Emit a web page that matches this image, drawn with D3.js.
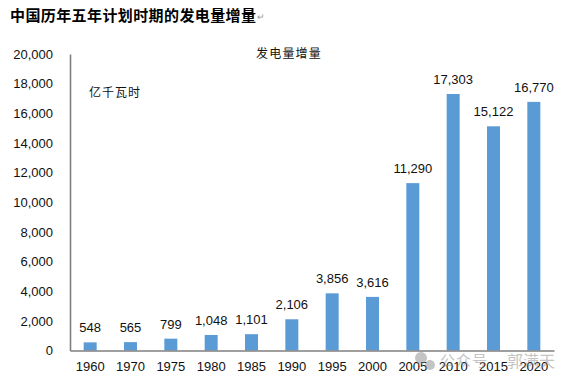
<!DOCTYPE html>
<html>
<head>
<meta charset="utf-8">
<script src="https://cdn.jsdelivr.net/npm/d3@7"></script>
<style>
  html, body { margin: 0; padding: 0; background: #fff; }
  text { font-family: "Liberation Sans", "Noto Sans CJK SC", sans-serif; fill: #111; }
  .cjk { font-family: "Noto Sans CJK SC", sans-serif; }
</style>
</head>
<body>
<svg id="chart"></svg>
<script>
  const years  = ['1960','1970','1975','1980','1985','1990','1995','2000','2005','2010','2015','2020'];
  const values = [548, 565, 799, 1048, 1101, 2106, 3856, 3616, 11290, 17303, 15122, 16770];
  const yTicks = [0, 2000, 4000, 6000, 8000, 10000, 12000, 14000, 16000, 18000, 20000];

  const svgWidth  = 573;
  const svgHeight = 385;
  const plotLeft = 70, plotRight = 554, plotTop = 54, plotBottom = 350.5;
  const fmt = d3.format(',');

  const svg = d3.select('#chart')
    .attr('width', svgWidth)
    .attr('height', svgHeight)
    .style('display', 'block');

  const x = d3.scaleBand().domain(years).range([plotLeft, plotRight]);
  const y = d3.scaleLinear().domain([0, 20000]).range([plotBottom, plotTop]);

  svg.selectAll('rect.bar')
    .data(values)
    .enter()
    .append('rect')
    .attr('class', 'bar')
    .attr('x', (d, i) => x(years[i]) + x.bandwidth() / 2 - 6.5)
    .attr('width', 13)
    .attr('y', d => y(d))
    .attr('height', d => y(0) - y(d))
    .attr('fill', '#5b9bd5');

  const yAxis = svg.append('g')
    .attr('transform', `translate(${plotLeft},0)`)
    .call(d3.axisLeft(y).tickValues(yTicks).tickFormat(fmt).tickSize(0).tickPadding(17));
  yAxis.selectAll('text').attr('font-size', 13).attr('fill', '#111');
  yAxis.select('.domain').attr('stroke', '#7f7f7f').attr('stroke-width', 1.6);

  const xAxis = svg.append('g')
    .attr('transform', `translate(0,${plotBottom})`)
    .call(d3.axisBottom(x).tickSize(0).tickPadding(11));
  xAxis.selectAll('text').attr('font-size', 13).attr('fill', '#111');
  xAxis.select('.domain').attr('stroke', '#7f7f7f').attr('stroke-width', 1.6);

  svg.selectAll('text.val')
    .data(values)
    .enter()
    .append('text')
    .attr('class', 'val')
    .attr('text-anchor', 'middle')
    .attr('x', (d, i) => x(years[i]) + x.bandwidth() / 2)
    .attr('y', d => y(d) - 10)
    .attr('font-size', 13)
    .text(d => fmt(d));

  // title and the two labels inside the chart area
  svg.append('text').attr('class', 'cjk')
    .attr('x', 10).attr('y', 20.5)
    .attr('font-size', 15).attr('font-weight', 700)
    .style('fill', '#000')
    .style('letter-spacing', '0.4px')
    .text('中国历年五年计划时期的发电量增量');
  svg.append('text')
    .attr('x', 257).attr('y', 20)
    .attr('font-size', 9)
    .style('fill', '#999')
    .text('↵');
  svg.append('text').attr('class', 'cjk')
    .attr('x', 256).attr('y', 58)
    .attr('font-size', 12)
    .style('letter-spacing', '1.2px')
    .text('发电量增量');
  svg.append('text').attr('class', 'cjk')
    .attr('x', 89).attr('y', 97)
    .attr('font-size', 12)
    .style('letter-spacing', '1px')
    .text('亿千瓦时');

  // watermark over the lower right corner
  const mark = svg.append('g').attr('opacity', 0.5);
  mark.append('circle').attr('cx', 421).attr('cy', 358).attr('r', 6).attr('fill', '#8a8a8a');
  mark.append('circle').attr('cx', 430).attr('cy', 365).attr('r', 5).attr('fill', '#8a8a8a');
  mark.append('text').attr('class', 'cjk')
    .attr('x', 440).attr('y', 366)
    .attr('font-size', 15)
    .style('fill', '#8a8a8a')
    .style('letter-spacing', '1px')
    .text('公众号');
  mark.append('text').attr('class', 'cjk')
    .attr('x', 507).attr('y', 367)
    .attr('font-size', 16)
    .style('fill', '#8a8a8a')
    .text('郭满天');
</script>
</body>
</html>
